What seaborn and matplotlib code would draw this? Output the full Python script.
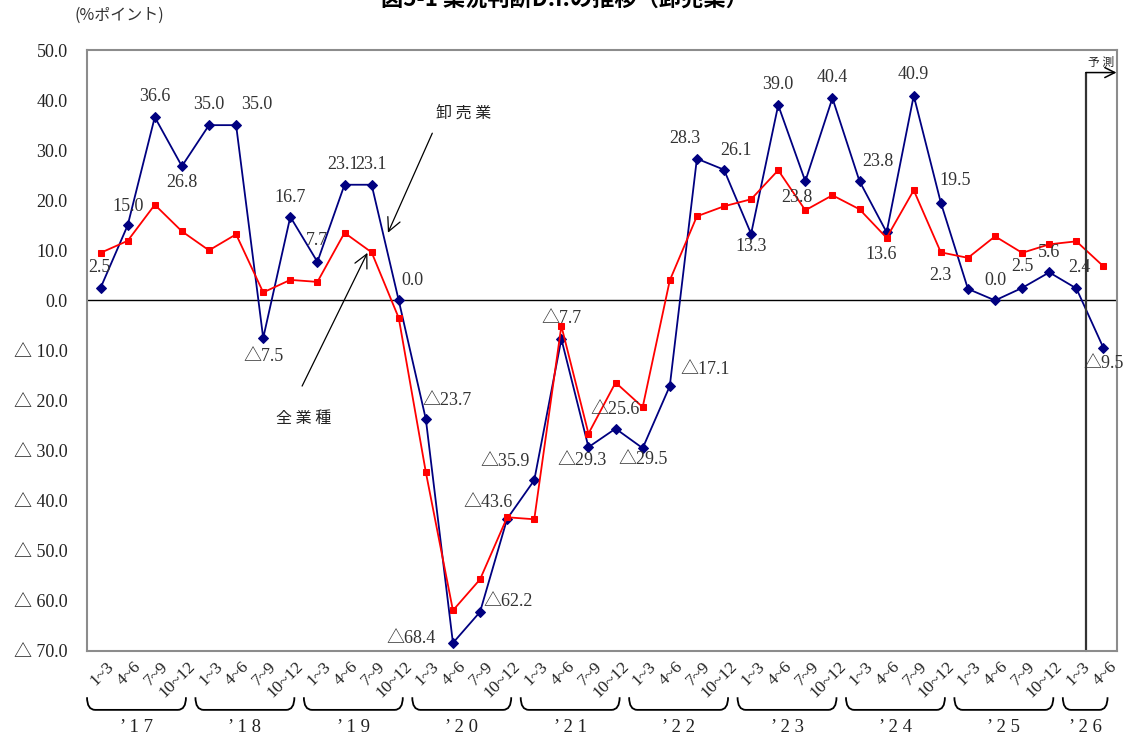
import numpy as np
import pandas as pd
import matplotlib
matplotlib.use('Agg')
import matplotlib.pyplot as plt
import matplotlib.transforms as mtransforms
from matplotlib.path import Path
from matplotlib.patches import PathPatch
import seaborn as sns

# data: wholesale (卸売業) and all industries (全業種), quarterly D.I.
years = ['17', '18', '19', '20', '21', '22', '23', '24', '25', '26']
quarters = ['1~3', '4~6', '7~9', '10~12']
wholesale = [2.5, 15.0, 36.6, 26.8,
             35.0, 35.0, -7.5, 16.7,
             7.7, 23.1, 23.1, 0.0,
             -23.7, -68.4, -62.2, -43.6,
             -35.9, -7.7, -29.3, -25.6,
             -29.5, -17.1, 28.3, 26.1,
             13.3, 39.0, 23.8, 40.4,
             23.8, 13.6, 40.9, 19.5,
             2.3, 0.0, 2.5, 5.6,
             2.4, -9.5]
all_industries = [9.5, 11.9, 19.1, 13.8,
                  10.0, 13.2, 1.6, 4.1,
                  3.7, 13.5, 9.6, -3.5,
                  -34.3, -61.9, -55.7, -43.3,
                  -43.7, -5.1, -26.6, -16.4,
                  -21.3, 4.0, 16.8, 18.8,
                  20.2, 26.0, 18.0, 21.0,
                  18.2, 12.5, 22.0, 9.6,
                  8.5, 12.8, 9.5, 11.2,
                  11.8, 6.8]

n = len(wholesale)
idx = np.arange(n)
tick_labels = [quarters[i % 4] for i in range(n)]
df = pd.DataFrame({'idx': idx, 'wholesale': wholesale, 'all': all_industries})

# label offsets in pixels (dx, dy), one per wholesale point
offsets = [(-1, 20), (0, 19), (0, 21), (0, -16), (0, 21), (21, 21), (0, -19), (0, 19),
           (0, 21), (-2, 20), (-1, 20), (14, 20), (21, 19), (-42, 4), (28, 10), (-19, 16),
           (-29, 19), (0, 20), (-6, -13), (0, 19), (0, -11), (35, 17), (-12, 20), (12, 19),
           (0, -13), (0, 21), (-8, -16), (0, 21), (18, 20), (-5, -22), (0, 21), (14, 22),
           (-28, 13), (0, 20), (0, 21), (0, 20), (3, 21), (0, -16)]


def fmt(v):
    return ('△' if v < 0 else '') + f'{abs(v):.1f}'


sns.set_style('white')
plt.rcParams['font.family'] = ['Liberation Serif', 'Noto Sans CJK JP', 'DejaVu Sans']
jp = ['Noto Sans CJK JP', 'DejaVu Sans']

fig = plt.figure(figsize=(11.36, 7.40), dpi=100)
ax = fig.add_axes([0.0766, 0.1203, 0.9067, 0.8121])

sns.lineplot(data=df, x='idx', y='wholesale', ax=ax, color='#000080', marker='D',
             markersize=5.5, markeredgecolor='#000080', linewidth=1.3)
sns.lineplot(data=df, x='idx', y='all', ax=ax, color='#ff0000', marker='s',
             markersize=5, markeredgecolor='#ff0000', linewidth=1.3)

ax.axhline(0, color='black', linewidth=1, zorder=1)

ax.set_xlim(-0.5, n - 0.5)
ax.set_ylim(-70, 50)
ax.set_yticks(np.arange(-70, 51, 10))
ax.set_yticklabels([fmt(v).replace('△', '△ ') for v in np.arange(-70, 51, 10)], fontsize=13)
ax.tick_params(axis='y', direction='in', length=5, pad=14, colors='#333333', labelcolor='#222222')
ax.set_xticks(idx)
ax.set_xticklabels([])
ax.tick_params(axis='x', length=0)
ax.set_xlabel('')
ax.set_ylabel('')
for s in ax.spines.values():
    s.set_color('#8c8c8c')
    s.set_linewidth(1.5)

# quarter labels
trans = mtransforms.blended_transform_factory(ax.transData, ax.transAxes)
for i, lab in enumerate(tick_labels):
    ax.text(i + 0.2, -0.012, lab, transform=trans, rotation=45, ha='right', va='top',
            rotation_mode='anchor', fontsize=12.5, color='#222222')

# year braces
for k, y in enumerate(years):
    first = k * 4
    last = min(first + 3, n - 1)
    x0, x1 = first - 0.5, last + 0.15
    ytop, ybot = -0.077, -0.098
    r = 0.3
    verts = [(x0, ytop), (x0, ybot), (x0 + r, ybot), (x1 - r, ybot), (x1, ybot), (x1, ytop)]
    codes = [Path.MOVETO, Path.CURVE3, Path.CURVE3, Path.LINETO, Path.CURVE3, Path.CURVE3]
    ax.add_patch(PathPatch(Path(verts, codes), transform=trans, fill=False,
                           edgecolor='black', linewidth=1.3, clip_on=False))
    ax.text((x0 + x1) / 2, -0.128, '’ ' + ' '.join(y), transform=trans, ha='center',
            va='center', fontsize=13.5, color='#222222')

# value labels for wholesale
for i, v in enumerate(wholesale):
    dx, dy = offsets[i]
    ax.annotate(fmt(v), (i, v), xytext=(dx, dy), textcoords='offset pixels',
                ha='center', va='center', fontsize=13, color='#333333')

# series annotations
ax.annotate('', xy=(10.56, 13.0), xytext=(12.28, 33.9),
            arrowprops=dict(arrowstyle='->', color='black', lw=0.9, mutation_scale=24))
ax.text(13.39, 37.3, '卸 売 業', ha='center', va='center', fontsize=11.5, family=jp, color='#222222')
ax.annotate('', xy=(9.89, 10.0), xytext=(7.39, -17.6),
            arrowprops=dict(arrowstyle='->', color='black', lw=0.9, mutation_scale=24))
ax.text(7.5, -23.6, '全 業 種', ha='center', va='center', fontsize=11.5, family=jp, color='#222222')

# forecast marker
fx = 36.35
ax.plot([fx, fx], [-70, 45.5], color='#333333', linewidth=1.6, clip_on=False)
ax.annotate('', xy=(37.48, 45.5), xytext=(fx, 45.5),
            arrowprops=dict(arrowstyle='->', color='black', lw=1.1, mutation_scale=18,
                            shrinkA=0, shrinkB=0))
ax.text(36.9, 47.6, '予 測', ha='center', va='center', fontsize=8.5, family=jp, color='#222222')

fig.text(0.066, 0.979, '(%ポイント)', ha='left', va='center', fontsize=11.5, family=jp, color='#333333')
fig.text(0.497, 1.001, '図5-1 業況判断D.I.の推移（卸売業）', ha='center', va='center',
         fontsize=16, fontweight='bold', family=jp, color='black')

fig.savefig('out.png', dpi=100)
